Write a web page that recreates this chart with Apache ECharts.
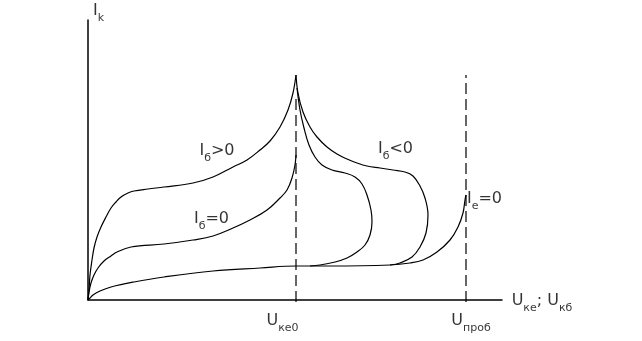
<!DOCTYPE html>
<html><head><meta charset="utf-8">
<script src="https://cdn.jsdelivr.net/npm/echarts@6/dist/echarts.min.js"></script>
<style>html,body{margin:0;padding:0;background:#fff}#c{width:642px;height:341px}</style>
</head><body><div id="c"></div>
<script>
// Curves (x: voltage units, y: current units)
const ibPos = [[0,0],[1,10],[2,25],[4,40],[6,52],[9,63],[13,73],[18,83],[23,92],[28,98],[33,103],[40,107],[46,109],[60,111],[76,113],[105,117],[125,123],[145,133],[159,140],[172,150],[182,159],[192,173],[200,190],[205,207],[208,225]];
const ibNeg = [[208,225],[210,207],[215,188],[222,173],[229,163],[239,153],[249,146],[259,141],[269,137],[279,134],[292,132],[305,130],[317,128],[325,124],[332,114],[337,102],[340,85],[338,67],[332,53],[324,43],[312,37],[302,35]];
const ibZero = [[0,0],[1,8],[3,17],[6,25],[10,32],[16,39],[23,44],[29,48],[43,53],[76,56],[105,60],[125,64],[145,72],[162,80],[179,90],[192,102],[199,110],[204,122],[207,135],[208,145]];
const ibZeroBack = [[209,212],[212,190],[216,172],[221,155],[227,143],[234,135],[244,130],[257,127],[267,123],[274,116],[279,105],[283,90],[284,78],[282,65],[277,55],[269,48],[259,42],[247,38],[232,35],[222,34]];
const ieZero = [[0,0],[2,2],[5,5],[12,9],[23,13],[46,18],[76,23],[125,29],[172,32],[208,34],[242,34],[302,35],[322,37],[335,40],[349,48],[362,60],[370,73],[375,87],[377,100],[378,105]];
// Marked voltages
const uKe0 = 208;
const uProb = 378;
const uKe0Top = 205;
const uProbTop = 225;
// Text labels
const labelTexts = ['{m|I}{s|б}{m|>0}','{m|I}{s|б}{m|=0}','{m|I}{s|б}{m|<0}','{m|I}{s|е}{m|=0}','{m|I}{s|k}','{m|U}{s|ке0}','{m|U}{s|проб}','{m|U}{s|ке}{m|; U}{s|кб}'];
const labelAt = [[129,149],[123.5,81],[307.5,151],[396.5,101],[10.5,289],[194.5,-21],[383,-21],[454,-1]];

const chart = echarts.init(document.getElementById('c'));
const curve = (d) => ({type:'line', data:d, smooth:0.4, symbol:'none', lineStyle:{color:'#000', width:1.2}, silent:true, animation:false});
const dashed = (x, top) => ({type:'line', data:[[x,-2],[x,top]], symbol:'none', clip:false, lineStyle:{color:'#000', width:1.2, type:[11,5]}, animation:false, silent:true});
chart.setOption({
  animation:false,
  grid:{left:88, right:140, top:20, bottom:41},
  xAxis:{type:'value', min:0, max:414, splitLine:{show:false}, axisTick:{show:false}, axisLabel:{show:false}, axisLine:{lineStyle:{color:'#000', width:1.5}}},
  yAxis:{type:'value', min:0, max:280, splitLine:{show:false}, axisTick:{show:false}, axisLabel:{show:false}, axisLine:{show:true, lineStyle:{color:'#000', width:1.5}}},
  series:[
    curve(ibPos), curve(ibNeg), curve(ibZero), curve(ibZeroBack), curve(ieZero),
    dashed(uKe0, uKe0Top), dashed(uProb, uProbTop),
    {type:'scatter', symbolSize:0, clip:false, silent:true, animation:false,
     data: labelAt.map((p,i)=>({value:p, name:labelTexts[i]})),
     label:{show:true, position:'inside', formatter:(p)=>p.name,
       rich:{m:{fontFamily:'DejaVu Sans', fontSize:16, lineHeight:16, color:'#000'},
             s:{fontFamily:'DejaVu Sans', fontSize:11, lineHeight:11, padding:[14,0,0,0], color:'#000'}}}}
  ]
});
</script></body></html>
